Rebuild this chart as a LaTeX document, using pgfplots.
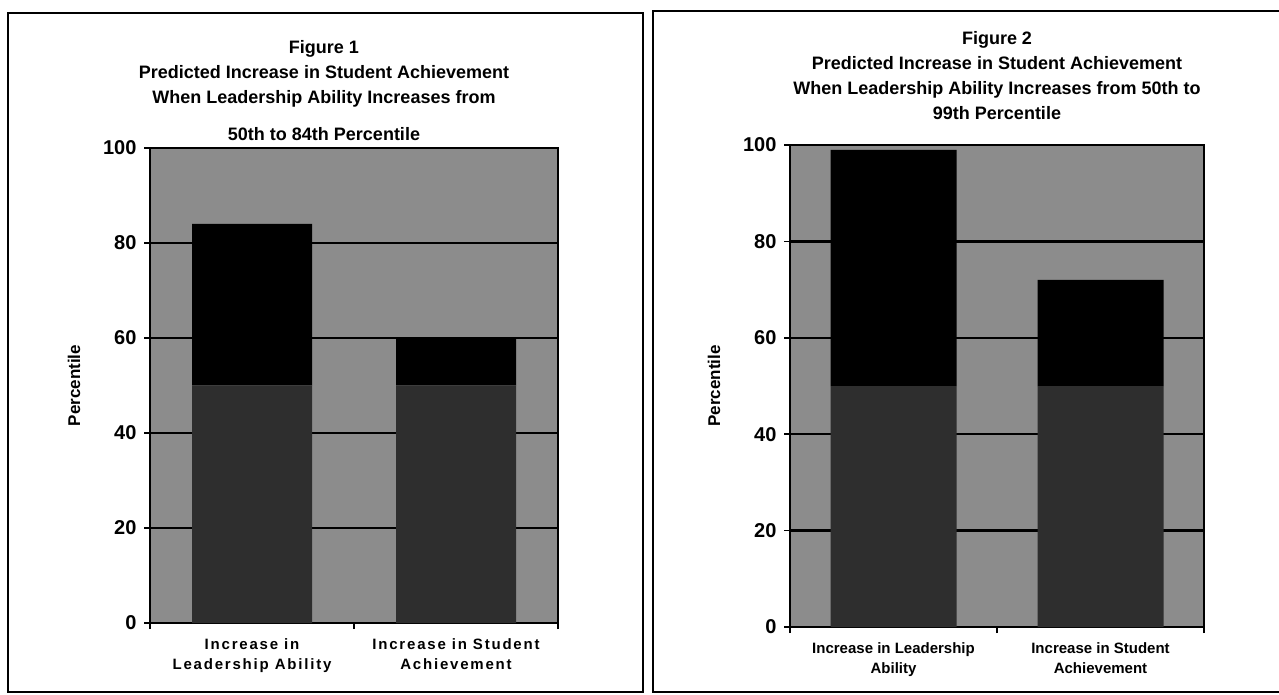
\documentclass[border=0pt]{standalone}
\usepackage{pgfplots}
\pgfplotsset{compat=1.18}
\usepackage{fontspec}
\setmainfont{Liberation Sans}
\setsansfont{Liberation Sans}

\definecolor{plotbg}{gray}{0.55}
\definecolor{lowseg}{gray}{0.18}

\pgfplotsset{
  fig/.style={
    scale only axis,
    anchor=south west,
    ybar stacked,
    ymin=0, ymax=100,
    xmin=-0.5, xmax=1.5,
    ytick={0,20,...,100},
    ymajorgrids,
    grid style={black, line width=2.5pt},
    axis background/.style={fill=plotbg},
    axis line style={black, line width=1.5pt},
    tick pos=left,
    tick align=outside,
    major tick length=6pt,
    tick style={black, line width=1.5pt},
    xtick={-0.5,0.5,1.5},
    xticklabels={},
    extra x ticks={0,1},
    extra x tick style={major tick length=0pt},
    y tick label style={font=\fontsize{20}{20}\selectfont\bfseries, xshift=-4pt},
    /pgf/number format/assume math mode=true,
    ylabel={Percentile},
    ylabel style={font=\fontsize{17}{17}\selectfont\bfseries, yshift=16pt},
    title style={font=\fontsize{18}{25}\selectfont\bfseries, align=center,
      at={(0.5,1)}, anchor=south},
    x tick label style={align=center, yshift=-12pt},
  }
}

\begin{document}
\begin{tikzpicture}
\path[use as bounding box] (0pt,0pt) rectangle (1279pt,694pt);
\draw[line width=2pt] (8pt,2pt) rectangle (643pt,681pt);
\draw[line width=2pt] (1290pt,2pt) -- (653pt,2pt) -- (653pt,683pt) -- (1290pt,683pt);

% Figure 1
\begin{axis}[fig,
  at={(150pt,71pt)}, width=408pt, height=475pt,
  title style={yshift=-2pt, xshift=-30pt},
  title={Figure 1\\Predicted Increase in Student Achievement\\When Leadership Ability Increases from\\[12pt]50th to 84th Percentile},
  extra x tick labels={{Increase in\\Leadership Ability},{Increase in Student\\Achievement}},
  x tick label style={font=\fontsize{15}{20}\selectfont\bfseries\addfontfeature{LetterSpace=12}},
]
\addplot[fill=lowseg, draw=none, bar width=120pt] coordinates {(0,50) (1,50)};
\addplot[fill=black, draw=none, bar width=120pt] coordinates {(0,34) (1,10)};
\end{axis}

% Figure 2
\begin{axis}[fig,
  at={(790pt,67pt)}, width=414pt, height=482pt,
  title style={yshift=16pt},
  title={Figure 2\\Predicted Increase in Student Achievement\\When Leadership Ability Increases from 50th to\\99th Percentile},
  extra x tick labels={{Increase in Leadership\\Ability},{Increase in Student\\Achievement}},
  x tick label style={font=\fontsize{15}{20}\selectfont\bfseries},
]
\addplot[fill=lowseg, draw=none, bar width=126pt] coordinates {(0,50) (1,50)};
\addplot[fill=black, draw=none, bar width=126pt] coordinates {(0,49) (1,22)};
\end{axis}
\end{tikzpicture}
\end{document}
